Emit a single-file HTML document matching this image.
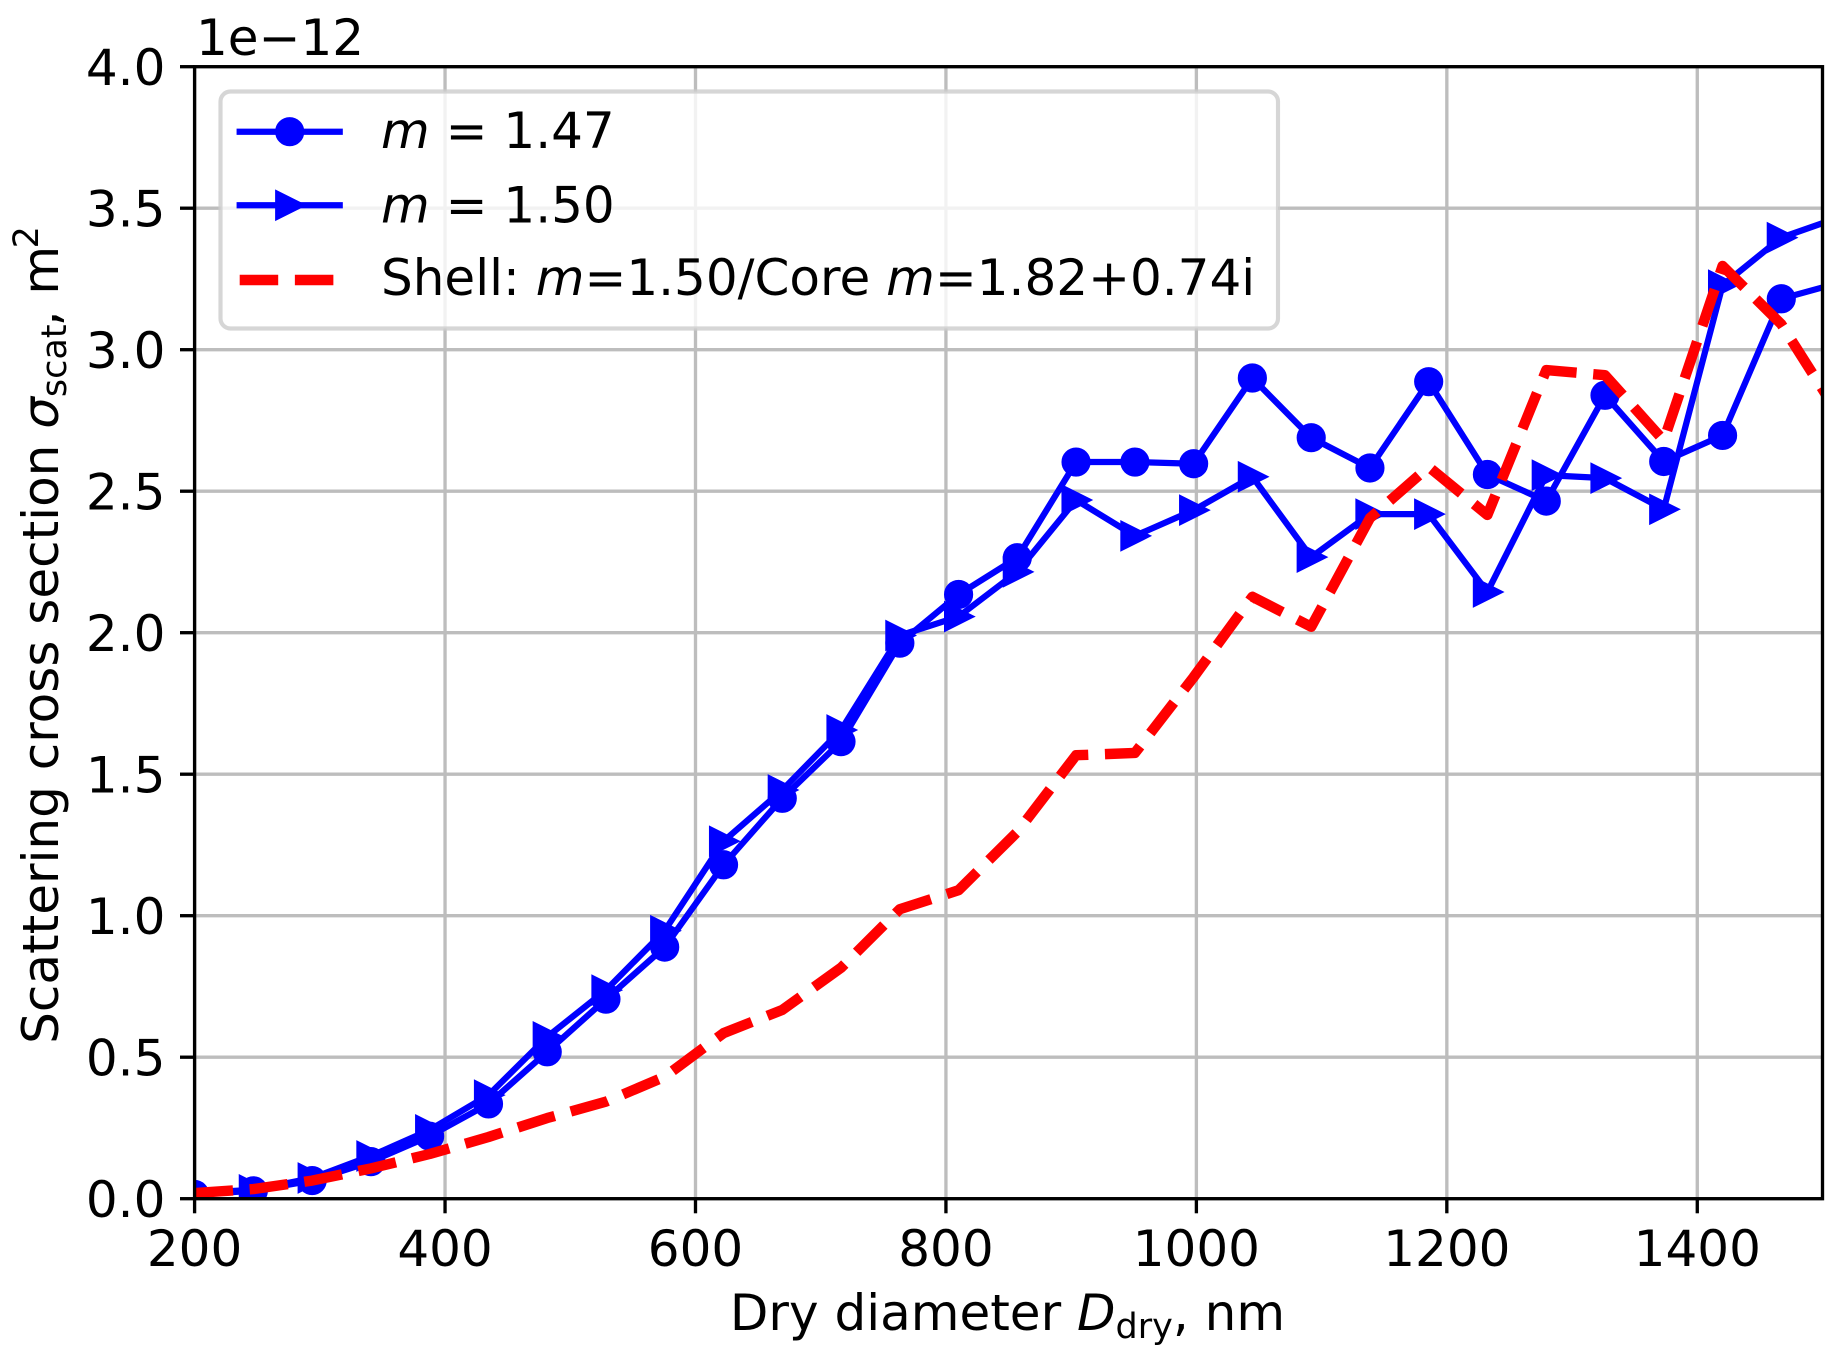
<!DOCTYPE html>
<html lang="en">
<head>
<meta charset="utf-8">
<title>Scattering cross section vs dry diameter</title>
<style>
  html, body { margin: 0; padding: 0; background: #ffffff; }
  svg { display: block; }
  text { font-family: "DejaVu Sans", "Liberation Sans", sans-serif; fill: #000000; font-size: 50px; }
  .it { font-style: italic; }
</style>
</head>
<body>
<svg id="chart" xmlns="http://www.w3.org/2000/svg" width="1837" height="1365" viewBox="0 0 1837 1365">
  <defs>
    <clipPath id="axes-clip"><rect x="194.6" y="66.7" width="1627.9" height="1132"></rect></clipPath>
  </defs>
  <rect x="0" y="0" width="1837" height="1365" fill="#ffffff"></rect>
  <g id="grid-layer"></g>
  <g id="series-layer" clip-path="url(#axes-clip)"></g>
  <g id="axes-layer"></g>

  <text x="196" y="55">1e−12</text>
  <text x="1007.5" y="1330" text-anchor="middle">Dry diameter <tspan class="it">D</tspan><tspan font-size="35" dy="8">dry</tspan><tspan dy="-8">, nm</tspan></text>
  <text transform="translate(58 635) rotate(-90)" text-anchor="middle">Scattering cross section <tspan class="it">σ</tspan><tspan font-size="35" dy="8">scat</tspan><tspan dy="-8" dx="-2">, m</tspan><tspan font-size="35" dy="-20" dx="-2.5">2</tspan></text>

  <g id="legend">
    <rect x="220.5" y="91.5" width="1057.5" height="237" rx="10" ry="10" fill="rgba(255,255,255,0.8)" stroke="rgba(204,204,204,0.8)" stroke-width="4.17"></rect>
    <g>
      <line x1="239.7" x2="339.7" y1="131.7" y2="131.7" stroke="#0000ff" stroke-width="6.25" stroke-linecap="square"></line>
      <circle cx="289.7" cy="131.7" r="12.5" fill="#0000ff" stroke="#0000ff" stroke-width="4.17"></circle>
      <text x="381" y="148"><tspan class="it">m</tspan> = 1.47</text>
    </g>
    <g>
      <line x1="239.7" x2="339.7" y1="205.3" y2="205.3" stroke="#0000ff" stroke-width="6.25" stroke-linecap="square"></line>
      <path d="M302.2 205.3 L277.2 217.8 L277.2 192.8 Z" fill="#0000ff" stroke="#0000ff" stroke-width="4.17" stroke-linejoin="miter"></path>
      <text x="381" y="222.3"><tspan class="it">m</tspan> = 1.50</text>
    </g>
    <g>
      <line x1="239.7" x2="339.7" y1="280" y2="280" stroke="#ff0000" stroke-width="10.4" stroke-dasharray="38.5 16.67"></line>
      <text x="381" y="295">Shell: <tspan class="it">m</tspan>=1.50/Core <tspan class="it">m</tspan>=1.82+0.74i</text>
    </g>
  </g>
</svg>

<script>
const xTicks = [200, 400, 600, 800, 1000, 1200, 1400];
const xTickLabels = ["200", "400", "600", "800", "1000", "1200", "1400"];
const yTicks = [0, 0.5, 1, 1.5, 2, 2.5, 3, 3.5, 4];
const yTickLabels = ["0.0", "0.5", "1.0", "1.5", "2.0", "2.5", "3.0", "3.5", "4.0"];
const xDomain = [200, 1500];
const yDomain = [0, 4];

const diameters = [200, 246.9, 293.9, 340.8, 387.7, 434.7, 481.6, 528.5, 575.4, 622.4, 669.3, 716.2, 763.2, 810.1, 857, 903.9, 950.9, 997.8, 1044.7, 1091.7, 1138.6, 1185.5, 1232.4, 1279.4, 1326.3, 1373.2, 1420.2, 1467.1, 1514];
const sigmaM147 = [0.015, 0.028, 0.064, 0.131, 0.221, 0.335, 0.519, 0.705, 0.889, 1.18, 1.415, 1.615, 1.963, 2.135, 2.265, 2.603, 2.603, 2.597, 2.9, 2.689, 2.582, 2.887, 2.559, 2.465, 2.839, 2.605, 2.697, 3.18, 3.237];
const sigmaM150 = [0.02, 0.031, 0.073, 0.151, 0.243, 0.366, 0.572, 0.737, 0.947, 1.263, 1.444, 1.656, 1.99, 2.057, 2.215, 2.469, 2.342, 2.433, 2.551, 2.267, 2.419, 2.419, 2.144, 2.557, 2.546, 2.436, 3.228, 3.396, 3.469];
const sigmaShell = [0.02, 0.034, 0.064, 0.107, 0.158, 0.218, 0.285, 0.343, 0.431, 0.585, 0.667, 0.816, 1.023, 1.09, 1.296, 1.567, 1.575, 1.843, 2.127, 2.021, 2.405, 2.586, 2.416, 2.928, 2.91, 2.679, 3.296, 3.09, 2.763];

const NS = "http://www.w3.org/2000/svg";
const plotLeft = 194.6, plotRight = 1822.5, plotTop = 66.7, plotBottom = 1198.7;

function xScale(v) {
  return plotLeft + (v - xDomain[0]) / (xDomain[1] - xDomain[0]) * (plotRight - plotLeft);
}
function yScale(v) {
  return plotBottom - (v - yDomain[0]) / (yDomain[1] - yDomain[0]) * (plotBottom - plotTop);
}
function make(tag, attrs, parent) {
  const node = document.createElementNS(NS, tag);
  for (const key in attrs) node.setAttribute(key, attrs[key]);
  parent.appendChild(node);
  return node;
}
function pointsOf(values) {
  return values.map(function (v, i) {
    return xScale(diameters[i]).toFixed(2) + "," + yScale(v).toFixed(2);
  }).join(" ");
}

const gridLayer = document.getElementById("grid-layer");
const seriesLayer = document.getElementById("series-layer");
const axesLayer = document.getElementById("axes-layer");
const gridStyle = { stroke: "#bdbdbd", "stroke-width": 3.33 };

xTicks.forEach(function (t, i) {
  const px = xScale(t);
  const gridLine = make("line", Object.assign({ x1: px, x2: px, y1: plotTop, y2: plotBottom }, gridStyle), gridLayer);
  
  
  const tick = make("line", { x1: px, x2: px, y1: plotBottom, y2: plotBottom + 14.6, stroke: "#000", "stroke-width": 3.33 }, axesLayer);
  
  
  const label = make("text", { x: px, y: 1266, "text-anchor": "middle" }, axesLayer);
  label.textContent = xTickLabels[i];
  
  
});

yTicks.forEach(function (t, i) {
  const py = yScale(t);
  const gridLine = make("line", Object.assign({ x1: plotLeft, x2: plotRight, y1: py, y2: py }, gridStyle), gridLayer);
  
  
  const tick = make("line", { x1: plotLeft - 14.6, x2: plotLeft, y1: py, y2: py, stroke: "#000", "stroke-width": 3.33 }, axesLayer);
  
  
  const label = make("text", { x: 165.4, y: py + 18.5, "text-anchor": "end" }, axesLayer);
  label.textContent = yTickLabels[i];
  
  
});

const lineM147 = make("polyline", { points: pointsOf(sigmaM147), fill: "none", stroke: "#0000ff", "stroke-width": 6.25, "stroke-linejoin": "round" }, seriesLayer);


sigmaM147.forEach(function (v, i) {
  const dot = make("circle", { cx: xScale(diameters[i]), cy: yScale(v), r: 12.5, fill: "#0000ff", stroke: "#0000ff", "stroke-width": 4.17 }, seriesLayer);
  
  
});

const lineM150 = make("polyline", { points: pointsOf(sigmaM150), fill: "none", stroke: "#0000ff", "stroke-width": 6.25, "stroke-linejoin": "round" }, seriesLayer);


sigmaM150.forEach(function (v, i) {
  const cx = xScale(diameters[i]);
  const cy = yScale(v);
  const d = "M" + (cx + 12.5) + " " + cy + " L" + (cx - 12.5) + " " + (cy + 12.5) + " L" + (cx - 12.5) + " " + (cy - 12.5) + " Z";
  const tri = make("path", { d: d, fill: "#0000ff", stroke: "#0000ff", "stroke-width": 4.17, "stroke-linejoin": "miter" }, seriesLayer);
  
  
});

const lineShell = make("polyline", { points: pointsOf(sigmaShell), fill: "none", stroke: "#ff0000", "stroke-width": 10.4, "stroke-dasharray": "38.5 16.67", "stroke-linejoin": "round" }, seriesLayer);



const frame = make("rect", { x: plotLeft, y: plotTop, width: plotRight - plotLeft, height: plotBottom - plotTop, fill: "none", stroke: "#000", "stroke-width": 3.33, "stroke-linejoin": "miter" }, axesLayer);


</script>
</body>
</html>
